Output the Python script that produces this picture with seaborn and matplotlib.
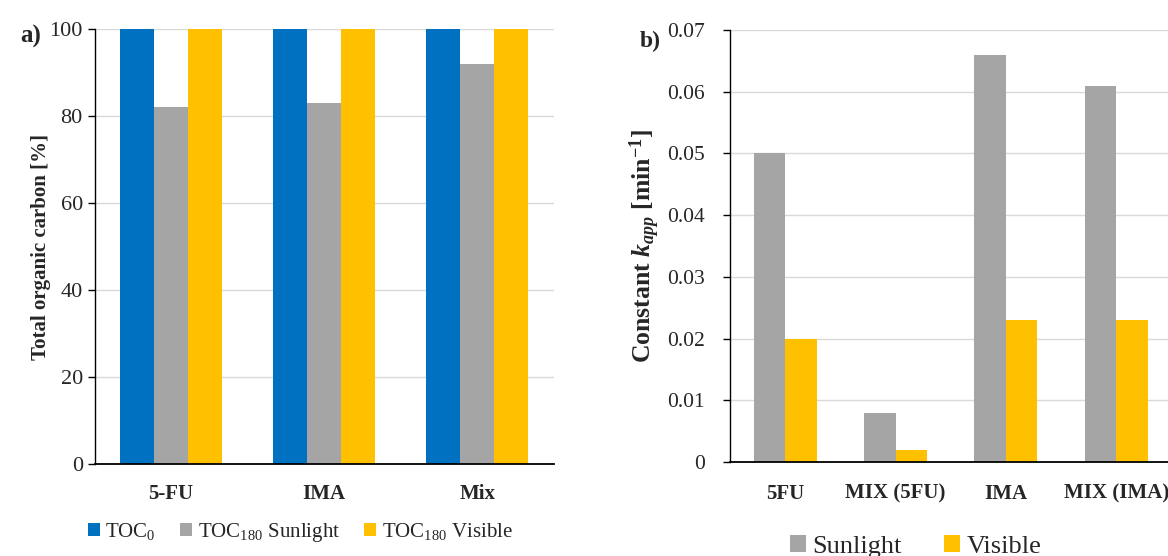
import pandas as pd
import matplotlib
matplotlib.use("Agg")
import matplotlib.pyplot as plt
import seaborn as sns

# panel a) total organic carbon
toc_samples = ["5-FU", "IMA", "Mix"]
toc_series = ["TOC$_0$", "TOC$_{180}$ Sunlight", "TOC$_{180}$ Visible"]
toc0 = [100, 100, 100]
toc180_sun = [82, 83, 92]
toc180_vis = [100, 100, 100]

# panel b) apparent rate constant
k_samples = ["5FU", "MIX (5FU)", "IMA", "MIX (IMA)"]
k_series = ["Sunlight", "Visible"]
k_sun = [0.050, 0.008, 0.066, 0.061]
k_vis = [0.020, 0.002, 0.023, 0.023]

blue = "#0070C0"
grey = "#A5A5A5"
gold = "#FFC000"

sns.set_style("white")
plt.rcParams["font.family"] = ["Liberation Serif", "DejaVu Serif"]
plt.rcParams["mathtext.fontset"] = "custom"
plt.rcParams["mathtext.rm"] = "Liberation Serif"
plt.rcParams["mathtext.it"] = "Liberation Serif:italic"
plt.rcParams["mathtext.bf"] = "Liberation Serif:bold"
plt.rcParams["mathtext.bfit"] = "Liberation Serif:bold:italic"

df_toc = pd.DataFrame({
    "sample": toc_samples * 3,
    "series": [toc_series[0]] * 3 + [toc_series[1]] * 3 + [toc_series[2]] * 3,
    "value": toc0 + toc180_sun + toc180_vis,
})
df_k = pd.DataFrame({
    "sample": k_samples * 2,
    "series": [k_series[0]] * 4 + [k_series[1]] * 4,
    "value": k_sun + k_vis,
})

fig = plt.figure(figsize=(11.68, 5.56), dpi=100)
ax1 = fig.add_axes([0.081, 0.165, 0.393, 0.783])
ax2 = fig.add_axes([0.625, 0.169, 0.378, 0.777])

sns.barplot(data=df_toc, x="sample", y="value", hue="series", ax=ax1,
            palette=[blue, grey, gold], width=0.67, saturation=1, errorbar=None,
            linewidth=0)
sns.barplot(data=df_k, x="sample", y="value", hue="series", ax=ax2,
            palette=[grey, gold], width=0.57, saturation=1, errorbar=None,
            linewidth=0)

for ax in (ax1, ax2):
    ax.set_axisbelow(True)
    ax.yaxis.grid(True, color="#D9D9D9", linewidth=1)
    ax.xaxis.grid(False)
    for s in ("top", "right"):
        ax.spines[s].set_visible(False)
    ax.spines["left"].set_color("black")
    ax.spines["bottom"].set_color("black")
    ax.spines["left"].set_linewidth(1.0)
    ax.spines["bottom"].set_linewidth(1.3)
    ax.tick_params(axis="y", left=True, length=5, width=1, color="black", direction="out")
    ax.tick_params(axis="x", bottom=False)
    ax.set_xlabel("")
    ax.set_xlim(-0.5, len(ax.get_xticks()) - 0.5)

# left panel
ax1.set_ylim(0, 100)
ax1.set_yticks(range(0, 101, 20))
ax1.tick_params(axis="y", labelsize=16)
ax1.tick_params(axis="x", labelsize=15, pad=11)
for t in ax1.get_xticklabels():
    t.set_fontweight("bold")
ax1.set_ylabel("Total organic carbon [%]", fontsize=15, fontweight="bold", labelpad=-1)
h1, l1 = ax1.get_legend_handles_labels()
ax1.legend(h1, l1, loc="center", bbox_to_anchor=(0.257, 0.043), bbox_transform=fig.transFigure,
           ncol=3, frameon=False, fontsize=15, handlelength=0.6, handleheight=0.6,
           handletextpad=0.25, columnspacing=1.15)
fig.text(0.017, 0.934, "a)", fontsize=18, fontweight="bold", va="center")

# right panel
ax2.set_ylim(0, 0.07)
ax2.set_yticks([0, 0.01, 0.02, 0.03, 0.04, 0.05, 0.06, 0.07])
ax2.set_yticklabels(["0", "0.01", "0.02", "0.03", "0.04", "0.05", "0.06", "0.07"])
ax2.tick_params(axis="y", labelsize=15.5, pad=13)
ax2.tick_params(axis="x", labelsize=15, pad=12)
for t in ax2.get_xticklabels():
    t.set_fontweight("bold")
ax2.set_ylabel(r"Constant $\mathbfit{k}_{\mathbfit{app}}$ [min$^{\mathbf{-1}}$]", fontsize=18.5,
               fontweight="bold", labelpad=4)
h2, l2 = ax2.get_legend_handles_labels()
ax2.legend(h2, l2, loc="center", bbox_to_anchor=(0.784, 0.017), bbox_transform=fig.transFigure,
           ncol=2, frameon=False, fontsize=19, handlelength=0.6, handleheight=0.6,
           handletextpad=0.25, columnspacing=1.6)
fig.text(0.548, 0.925, "b)", fontsize=17, fontweight="bold", va="center")

fig.savefig("out.png", dpi=100)
